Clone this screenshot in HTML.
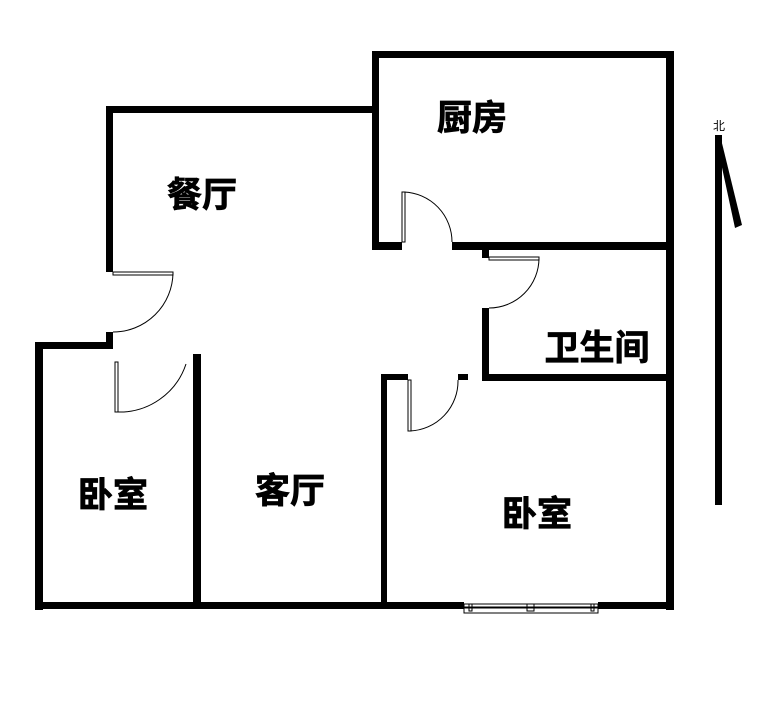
<!DOCTYPE html>
<html><head><meta charset="utf-8"><style>
html,body{margin:0;padding:0;background:#fff;}
svg{display:block}
text{font-family:"Liberation Sans","Noto Sans CJK SC",sans-serif;font-weight:bold;fill:#000;stroke:#000;stroke-width:0.8}
</style></head><body>
<svg width="767" height="723" viewBox="0 0 767 723" xmlns="http://www.w3.org/2000/svg">
<g fill="#000">
<rect x="372" y="51" width="302" height="7"/>
<rect x="666" y="51" width="8" height="559"/>
<rect x="372" y="51" width="7" height="198"/>
<rect x="372" y="242" width="30" height="8"/>
<rect x="452" y="242" width="222" height="8"/>
<rect x="106" y="106" width="273" height="7"/>
<rect x="106" y="106" width="7" height="166"/>
<rect x="106" y="332" width="7" height="17"/>
<rect x="35" y="342" width="78" height="7"/>
<rect x="35" y="342" width="8" height="268"/>
<rect x="193" y="354" width="8" height="252"/>
<rect x="35" y="602" width="429" height="7"/>
<rect x="598" y="602" width="76" height="7"/>
<rect x="482" y="250" width="7" height="8"/>
<rect x="482" y="308" width="7" height="73"/>
<rect x="482" y="374" width="192" height="7"/>
<rect x="458" y="374" width="10" height="6"/>
<rect x="381" y="374" width="27" height="6"/>
<rect x="381" y="374" width="6" height="234"/>
<rect x="715" y="135" width="7" height="370"/>
<polygon points="715,135 720,135 742,225 735,228"/>
</g>
<g fill="none" stroke="#000" stroke-width="1">
<rect x="402" y="192" width="3" height="50"/>
<path d="M404,192 A50,50 0 0 1 452,242"/>
<rect x="489" y="257" width="50" height="3"/>
<path d="M539,258 A50,50 0 0 1 489,308"/>
<rect x="113" y="272" width="60" height="3"/>
<path d="M173,273 A60,60 0 0 1 113,332"/>
<rect x="115" y="362" width="3" height="50"/>
<path d="M117,412 A70,70 0 0 0 186,364"/>
<rect x="408" y="380" width="3" height="51"/>
<path d="M410,431 A50,50 0 0 0 458,380"/>
<rect x="464" y="604" width="134" height="3"/>
<rect x="464" y="608" width="134" height="5"/>
<rect x="469" y="604" width="3" height="7"/>
<rect x="527" y="604" width="7" height="7"/>
<rect x="591" y="604" width="3" height="7"/>
</g>
<text x="472" y="130" font-size="35" text-anchor="middle">厨房</text>
<text x="202" y="207" font-size="35" text-anchor="middle">餐厅</text>
<text x="597" y="360" font-size="35" text-anchor="middle">卫生间</text>
<text x="113" y="507" font-size="35" text-anchor="middle">卧室</text>
<text x="290" y="503" font-size="35" text-anchor="middle">客厅</text>
<text x="537" y="526" font-size="35" text-anchor="middle">卧室</text>
<text x="719" y="130" font-size="12" text-anchor="middle" style="font-weight:normal;stroke:none">北</text>
</svg>
</body></html>
